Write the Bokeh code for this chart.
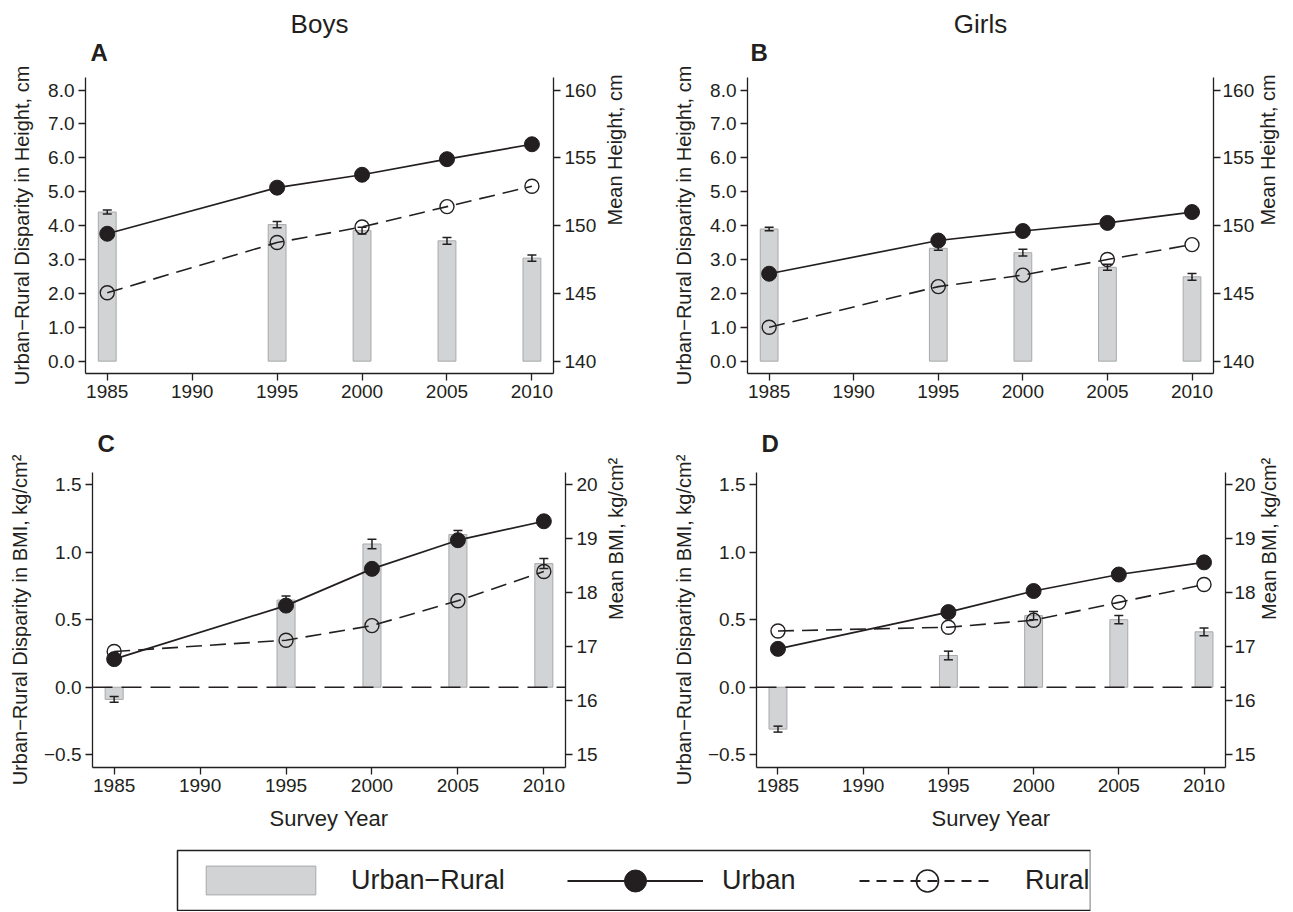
import math
from bokeh.plotting import figure
from bokeh.models import (Range1d, LinearAxis, FixedTicker, CustomJSTickFormatter, Whisker, TeeHead,
                          ColumnDataSource, Span, Title, Legend, LegendItem, Spacer)
from bokeh.layouts import row, column
from bokeh.embed import file_html
from bokeh.resources import INLINE

# ---------------- data ----------------
years = [1985, 1995, 2000, 2005, 2010]
x_ticks = [1985, 1990, 1995, 2000, 2005, 2010]

# A: boys, height (gap in cm on left axis, means in cm on right axis)
boys_height_gap = [4.40, 4.03, 3.85, 3.55, 3.04]
boys_height_gap_err = [0.06, 0.09, 0.10, 0.10, 0.095]
boys_height_urban = [149.4, 152.8, 153.75, 154.9, 156.0]
boys_height_rural = [145.05, 148.75, 149.9, 151.4, 152.9]

# B: girls, height
girls_height_gap = [3.90, 3.33, 3.20, 2.77, 2.49]
girls_height_gap_err = [0.05, 0.06, 0.10, 0.09, 0.10]
girls_height_urban = [146.45, 148.9, 149.6, 150.2, 151.0]
girls_height_rural = [142.5, 145.5, 146.35, 147.5, 148.6]

# C: boys, BMI
boys_bmi_gap = [-0.09, 0.645, 1.06, 1.13, 0.915]
boys_bmi_gap_err = [0.022, 0.03, 0.035, 0.03, 0.037]
boys_bmi_urban = [16.77, 17.76, 18.44, 18.97, 19.32]
boys_bmi_rural = [16.91, 17.12, 17.39, 17.85, 18.39]

# D: girls, BMI
girls_bmi_gap = [-0.31, 0.235, 0.53, 0.50, 0.41]
girls_bmi_gap_err = [0.022, 0.032, 0.03, 0.03, 0.029]
girls_bmi_urban = [16.96, 17.64, 18.03, 18.335, 18.56]
girls_bmi_rural = [17.29, 17.36, 17.49, 17.82, 18.15]

height_left_ticks = [0, 1, 2, 3, 4, 5, 6, 7, 8]
height_right_ticks = [140, 145, 150, 155, 160]
bmi_left_ticks = [-0.5, 0, 0.5, 1.0, 1.5]
bmi_right_ticks = [15, 16, 17, 18, 19, 20]

height_ylabel = "Urban\u2212Rural Disparity in Height, cm"
height_rlabel = "Mean Height, cm"
bmi_ylabel = "Urban\u2212Rural Disparity in BMI, kg/cm\u00b2"
bmi_rlabel = "Mean BMI, kg/cm\u00b2"
legend_labels = ["Urban\u2212Rural", "Urban", "Rural"]

# ---------------- style ----------------
INK = "#231f20"
BAR_FILL = "#d1d3d4"
BAR_LINE = "#a7a9ac"
FONT = "Liberation Sans"

# axis ranges; right axis = offset + 2.5 * left
HX = (1983.72, 2011.27)
HY = (-0.364, 8.37)
HY_R = (140 + 2.5 * HY[0], 140 + 2.5 * HY[1])
BX = (1983.74, 2011.26)
BY = (-0.594, 1.589)
BY_R = (16.25 + 2.5 * BY[0], 16.25 + 2.5 * BY[1])

left_fmt = CustomJSTickFormatter(code="return tick.toFixed(1).replace('-', '\\u2212');")


def style_axis(ax, label_size="20px"):
    ax.axis_line_color = INK
    ax.axis_line_width = 1.3
    ax.major_tick_line_color = INK
    ax.major_tick_line_width = 1.3
    ax.major_tick_out = 7
    ax.major_tick_in = 0
    ax.minor_tick_out = 0
    ax.minor_tick_in = 0
    ax.major_label_text_font = FONT
    ax.major_label_text_font_size = "19px"
    ax.major_label_text_color = INK
    ax.major_label_standoff = 4
    ax.axis_label_text_font = FONT
    ax.axis_label_text_font_size = label_size
    ax.axis_label_text_font_style = "normal"
    ax.axis_label_text_color = INK


def make_panel(letter, title, gap, err, urban, rural, *, xr, yl, yr, lticks, rticks,
               ylabel, rlabel, xlabel, zero_line, width, height, mbl, mbr, mbt, mbb,
               lstd, rstd, rtick_std, letter_offset):
    p = figure(width=width, height=height, x_range=Range1d(*xr), y_range=Range1d(*yl),
               min_border_left=mbl, min_border_right=mbr, min_border_top=mbt,
               min_border_bottom=mbb, output_backend="svg", toolbar_location=None, tools="")
    p.extra_y_ranges = {"right": Range1d(*yr)}
    p.outline_line_color = None
    p.xgrid.visible = False
    p.ygrid.visible = False
    p.background_fill_color = "white"
    p.border_fill_color = "white"

    # column title (outermost) and panel letter (nearest the frame)
    letter_kw = dict(text=letter, align="left", offset=letter_offset, standoff=24,
                     text_font=FONT, text_font_size="24px", text_font_style="bold",
                     text_color=INK)
    if title:
        p.title.text = title
        p.title.align = "center"
        p.title.standoff = -28
        p.title.text_font = FONT
        p.title.text_font_size = "26px"
        p.title.text_font_style = "normal"
        p.title.text_color = INK
        p.add_layout(Title(**letter_kw), "above")
    else:
        letter_kw["standoff"] = 32
        for k, v in letter_kw.items():
            setattr(p.title, k, v)

    xa = p.xaxis[0]
    style_axis(xa, "22px")
    xa.ticker = FixedTicker(ticks=x_ticks)
    xa.axis_label = xlabel
    xa.axis_label_standoff = 11

    ya = p.yaxis[0]
    style_axis(ya)
    ya.ticker = FixedTicker(ticks=lticks)
    ya.formatter = left_fmt
    ya.axis_label = ylabel
    ya.axis_label_standoff = lstd

    ra = LinearAxis(y_range_name="right")
    style_axis(ra)
    ra.ticker = FixedTicker(ticks=rticks)
    ra.axis_label = rlabel
    ra.axis_label_standoff = rstd
    ra.major_label_standoff = rtick_std
    ra.axis_label_orientation = math.pi / 2
    p.add_layout(ra, "right")

    # bars of the urban-rural gap
    p.vbar(x=years, top=gap, bottom=0, width=1.05, fill_color=BAR_FILL,
           line_color=BAR_LINE, line_width=1)
    src = ColumnDataSource(dict(x=years, upper=[g + e for g, e in zip(gap, err)],
                                lower=[g - e for g, e in zip(gap, err)]))
    w = Whisker(base="x", upper="upper", lower="lower", source=src, line_color=INK,
                line_width=1.5, level="annotation",
                upper_head=TeeHead(size=9, line_color=INK, line_width=1.5),
                lower_head=TeeHead(size=9, line_color=INK, line_width=1.5))
    p.add_layout(w)
    if zero_line:
        p.add_layout(Span(location=0, dimension="width", line_color=INK,
                          line_width=1.5, line_dash="20 9"))

    # rural (dashed, open circles) and urban (solid, filled circles) means
    p.line(years, rural, y_range_name="right", line_color=INK, line_width=1.6,
           line_dash="16 8")
    p.scatter(years, rural, y_range_name="right", marker="circle", size=14,
              fill_color=None, line_color=INK, line_width=1.4)
    p.line(years, urban, y_range_name="right", line_color=INK, line_width=1.7)
    p.scatter(years, urban, y_range_name="right", marker="circle", size=15,
              fill_color=INK, line_color=INK)
    return p


pA = make_panel("A", "Boys", boys_height_gap, boys_height_gap_err, boys_height_urban,
                boys_height_rural, xr=HX, yl=HY, yr=HY_R, lticks=height_left_ticks,
                rticks=height_right_ticks, ylabel=height_ylabel, rlabel=height_rlabel,
                xlabel="", zero_line=False, width=669, height=411, mbl=85, mbr=116,
                mbt=77, mbb=38, lstd=12, rstd=16, rtick_std=4, letter_offset=5)
pB = make_panel("B", "Girls", girls_height_gap, girls_height_gap_err, girls_height_urban,
                girls_height_rural, xr=HX, yl=HY, yr=HY_R, lticks=height_left_ticks,
                rticks=height_right_ticks, ylabel=height_ylabel, rlabel=height_rlabel,
                xlabel="", zero_line=False, width=624, height=411, mbl=78, mbr=78,
                mbt=77, mbb=38, lstd=12, rstd=11, rtick_std=2, letter_offset=3)
pC = make_panel("C", None, boys_bmi_gap, boys_bmi_gap_err, boys_bmi_urban,
                boys_bmi_rural, xr=BX, yl=BY, yr=BY_R, lticks=bmi_left_ticks,
                rticks=bmi_right_ticks, ylabel=bmi_ylabel, rlabel=bmi_rlabel,
                xlabel="Survey Year", zero_line=True, width=669, height=430, mbl=92,
                mbr=104, mbt=61, mbb=74, lstd=10, rstd=15, rtick_std=4, letter_offset=5)
pD = make_panel("D", None, girls_bmi_gap, girls_bmi_gap_err, girls_bmi_urban,
                girls_bmi_rural, xr=BX, yl=BY, yr=BY_R, lticks=bmi_left_ticks,
                rticks=bmi_right_ticks, ylabel=bmi_ylabel, rlabel=bmi_rlabel,
                xlabel="Survey Year", zero_line=True, width=624, height=430, mbl=84,
                mbr=67, mbt=61, mbb=74, lstd=10, rstd=10, rtick_std=2, letter_offset=5)

# ---------------- legend ----------------
# legend swatches come from renderers whose data lies outside this figure's view
pL = figure(width=915, height=62, min_border=1, x_range=Range1d(0, 1), y_range=Range1d(0, 1),
            x_axis_location=None, y_axis_location=None, output_backend="svg",
            toolbar_location=None, tools="")
pL.outline_line_color = INK
pL.outline_line_width = 1.5
pL.grid.visible = False
r_bar = pL.vbar(x=years, top=boys_height_gap, width=1, fill_color=BAR_FILL,
                line_color=BAR_LINE, line_width=1)
r_uline = pL.line(years, boys_height_urban, line_color=INK, line_width=1.8)
r_upt = pL.scatter(years, boys_height_urban, marker="circle", fill_color=INK, line_color=INK)
r_rline = pL.line(years, boys_height_rural, line_color=INK, line_width=1.8, line_dash="10 7")
r_rpt = pL.scatter(years, boys_height_rural, marker="circle", fill_color=None,
                   line_color=INK, line_width=1.6)


def add_legend(items, loc, gw, gh, std):
    leg = Legend(items=items, location=loc, glyph_width=gw, glyph_height=gh,
                 label_standoff=std, padding=0, margin=0, spacing=0,
                 border_line_color=None, background_fill_alpha=0,
                 label_text_font=FONT, label_text_font_size="27px",
                 label_text_color=INK)
    pL.add_layout(leg, "center")


add_legend([LegendItem(label=legend_labels[0], renderers=[r_bar])], (15, 12), 137, 36, 22)
add_legend([LegendItem(label=legend_labels[1], renderers=[r_uline, r_upt])], (390, 2.5), 136, 55, 19)
add_legend([LegendItem(label=legend_labels[2], renderers=[r_rline, r_rpt])], (682, 2.5), 136, 55, 30)

layout = column(row(pA, pB), row(pC, pD), Spacer(height=8), row(Spacer(width=176), pL))

open("out.html", "w").write(file_html(layout, INLINE))
